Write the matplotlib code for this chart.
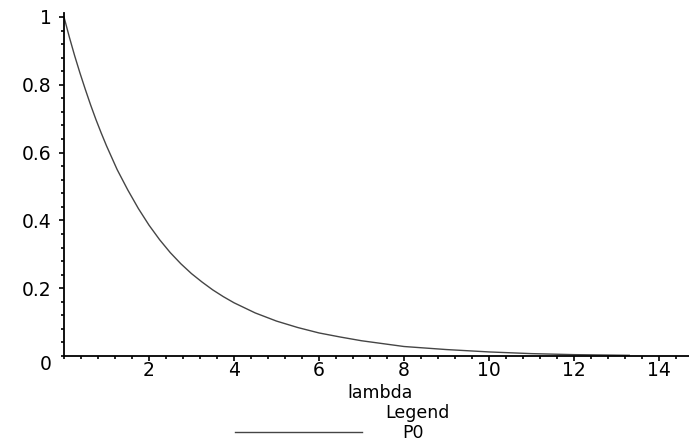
import matplotlib
matplotlib.use("Agg")
import matplotlib.pyplot as plt
from matplotlib.ticker import MultipleLocator, FixedLocator

# values (P0 against lambda)
lam = [0, 0.125, 0.25, 0.375, 0.5, 0.625, 0.75, 0.875, 1, 1.25, 1.5, 1.75,
       2, 2.25, 2.5, 2.75, 3, 3.25, 3.5, 3.75, 4, 4.5, 5, 5.5,
       6, 6.5, 7, 8, 9, 10, 11, 12, 13.3]
p0 = [1.0, 0.941, 0.886, 0.835, 0.787, 0.741, 0.698, 0.658, 0.62, 0.55,
      0.49, 0.435, 0.386, 0.343, 0.305, 0.272, 0.243, 0.218, 0.195, 0.175,
      0.157, 0.127, 0.103, 0.084, 0.068, 0.056, 0.045, 0.028, 0.019, 0.012,
      0.007, 0.004, 0.002]

xticks = [2, 4, 6, 8, 10, 12, 14]
yticks = [0.2, 0.4, 0.6, 0.8, 1]
ytick_labels = ["0.2", "0.4", "0.6", "0.8", "1"]

plt.rcParams['font.family'] = ['DejaVu Sans']
fs = 13.5    # tick labels
fs2 = 12.5   # axis name and legend

W, H = 689, 443
fig = plt.figure(figsize=(W / 100, H / 100), dpi=100)

# axes placed in pixel terms: x=0 at 64px, y=0 at 356px, y=1 at 17px
x0, y0, ppy = 64, 356, 339
ymax = 1.013
ax = fig.add_axes([x0 / W, (H - y0) / H, (W - x0) / W, ppy * ymax / H])
ax.set_xlim(0, (W - x0) / 42.5)
ax.set_ylim(0, ymax)

ax.plot(lam, p0, color='#454545', lw=1.0, label='P0')

for s in ['top', 'right']:
    ax.spines[s].set_visible(False)
for s in ['left', 'bottom']:
    ax.spines[s].set_linewidth(1.3)
    ax.spines[s].set_color('black')

ax.xaxis.set_major_locator(FixedLocator(xticks))
ax.xaxis.set_minor_locator(MultipleLocator(0.4))
ax.set_xticklabels([str(t) for t in xticks])
ax.yaxis.set_major_locator(FixedLocator(yticks))
ax.yaxis.set_minor_locator(MultipleLocator(0.04))
ax.set_yticklabels(ytick_labels)

ax.tick_params(axis='both', which='major', direction='out', length=3.8,
               width=1.2, labelsize=fs, colors='black')
ax.tick_params(axis='both', which='minor', direction='out', length=2.3,
               width=1.2)
ax.tick_params(axis='x', which='major', pad=0)
ax.tick_params(axis='y', which='major', pad=5)

# Maple puts the zero label a bit below the corner
ax.annotate("0", xy=(0, 0), xycoords='data', xytext=(-9, -6),
            textcoords='offset points', ha='right', va='center',
            fontsize=fs)

fig.text(380 / W, 1 - 393.5 / H, "lambda", ha='center', va='center', fontsize=fs2)
fig.text(417 / W, 1 - 413.5 / H, "Legend", ha='center', va='center', fontsize=fs2)

leg = ax.legend(loc='center left', bbox_to_anchor=(235 / W, 1 - 433 / H),
                bbox_transform=fig.transFigure, frameon=False, fontsize=fs2,
                handlelength=127 / (fs2 * 100 / 72), handletextpad=2.3,
                borderpad=0, borderaxespad=0)

fig.savefig("out.png", dpi=100)
